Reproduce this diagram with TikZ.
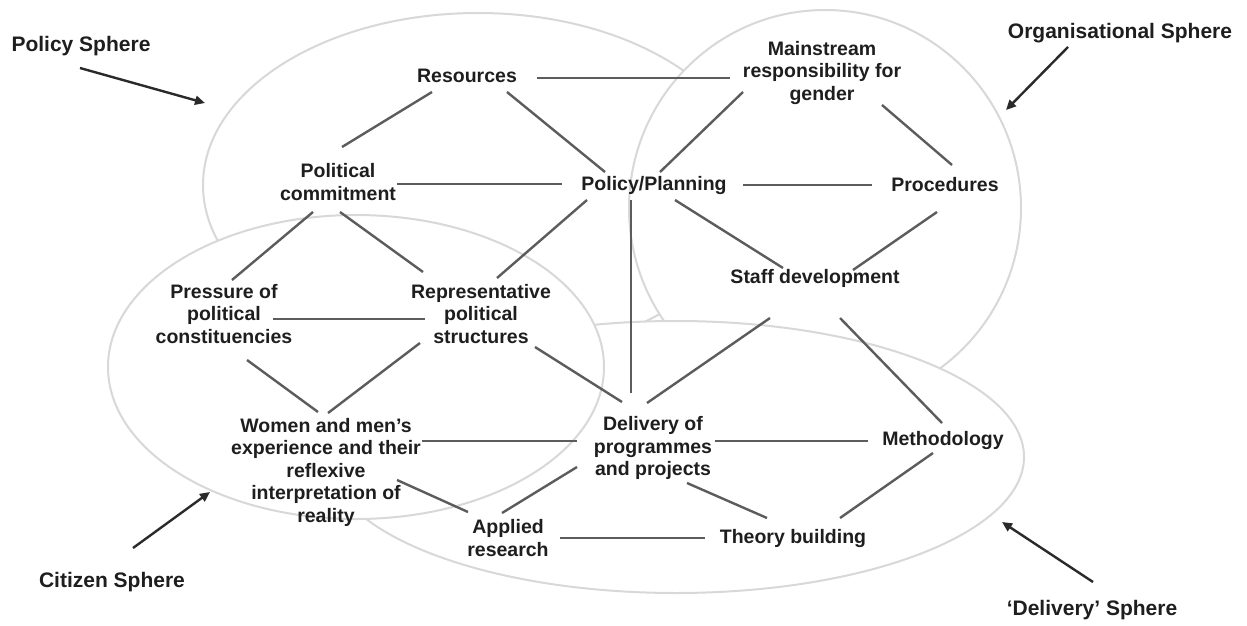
\documentclass[tikz,border=0pt]{standalone}
\usepackage{fontspec}
\setmainfont{Liberation Sans}
\usetikzlibrary{arrows.meta}
\definecolor{txt}{HTML}{1E1E1E}
\definecolor{conncol}{HTML}{5C5C5C}
\definecolor{ellcol}{HTML}{D8D8D8}
\definecolor{arrcol}{HTML}{2A2A2A}
\tikzset{
  lbl/.style={inner sep=0pt, align=center, text=txt, font=\bfseries\fontsize{19.5}{22.5}\selectfont},
  sphlbl/.style={inner sep=0pt, text=txt, font=\bfseries\fontsize{21}{24}\selectfont},
  conn/.style={draw=conncol, line width=2.4pt},
  sarr/.style={draw=arrcol, line width=2.4pt, -{Triangle[length=10pt,width=9pt]}},
  ell/.style={draw=ellcol, fill=white, line width=2pt}
}
\begin{document}
\begin{tikzpicture}[x=1pt,y=-1pt]
\path[use as bounding box, fill=white] (0,0) rectangle (1247,626);
% spheres (layered, white filled)
\path[ell] (478,185) ellipse [x radius=275pt, y radius=172pt];
\path[ell] (825,208) ellipse [x radius=196pt, y radius=198pt];
\path[ell] (676,457) ellipse [x radius=348pt, y radius=136pt];
\path[ell] (356,367) ellipse [x radius=248pt, y radius=152pt];
% nodes
\node[lbl] (res) at (467,76) {Resources};
\node[lbl] (main) at (822,73) {Mainstream\\responsibility for\\gender};
\node[lbl] (pc) at (338,182) {Political\\commitment};
\node[lbl] (pp) at (654,185) {Policy/Planning};
\node[lbl] (proc) at (945,185) {Procedures};
\node[lbl] (sd) at (815,278) {Staff development};
\node[lbl] (pres) at (224,314) {Pressure of\\political\\constituencies};
\node[lbl] (rep) at (481,314) {Representative\\political\\structures};
\node[lbl] (wom) at (326,472) {Women and men's\\experience and their\\reflexive\\interpretation of\\reality};
\node[lbl] (del) at (653,448) {Delivery of\\programmes\\and projects};
\node[lbl] (meth) at (943,440) {Methodology};
\node[lbl] (app) at (508,538) {Applied\\research};
\node[lbl] (theo) at (793,538) {Theory building};
% sphere labels
\node[sphlbl] (ps) at (81,46) {Policy Sphere};
\node[sphlbl] (os) at (1120,33) {Organisational Sphere};
\node[sphlbl] (cs) at (112,582) {Citizen Sphere};
\node[sphlbl] (ds) at (1092,610) {‘Delivery’ Sphere};
\coordinate (psA) at (205,103);
\coordinate (osA) at (1006,110);
\coordinate (csA) at (210,492);
\coordinate (dsA) at (1002,522);
% connectors
\draw[conn] ([shift={(70,2)}]res.center) -- ([shift={(-92,5)}]main.center);
\draw[conn] ([shift={(-35,16)}]res.center) -- ([shift={(4,-35)}]pc.center);
\draw[conn] ([shift={(40,16)}]res.center) -- ([shift={(-49,-13)}]pp.center);
\draw[conn] ([shift={(-79,19)}]main.center) -- ([shift={(6,-13)}]pp.center);
\draw[conn] ([shift={(60,32)}]main.center) -- ([shift={(7,-20)}]proc.center);
\draw[conn] ([shift={(59,2)}]pc.center) -- ([shift={(-92,-1)}]pp.center);
\draw[conn] ([shift={(89,0)}]pp.center) -- ([shift={(-73,0)}]proc.center);
\draw[conn] ([shift={(-25,30)}]pc.center) -- ([shift={(8,-34)}]pres.center);
\draw[conn] ([shift={(2,30)}]pc.center) -- ([shift={(-58,-42)}]rep.center);
\draw[conn] ([shift={(-67,15)}]pp.center) -- ([shift={(16,-36)}]rep.center);
\draw[conn] ([shift={(-23,15)}]pp.center) -- ([shift={(-22,-55)}]del.center);
\draw[conn] ([shift={(21,15)}]pp.center) -- ([shift={(-32,-10)}]sd.center);
\draw[conn] ([shift={(-8,27)}]proc.center) -- ([shift={(38,-8)}]sd.center);
\draw[conn] ([shift={(49,5)}]pres.center) -- ([shift={(-56,5)}]rep.center);
\draw[conn] ([shift={(23,46)}]pres.center) -- ([shift={(-8,-60)}]wom.center);
\draw[conn] ([shift={(-61,29)}]rep.center) -- ([shift={(2,-59)}]wom.center);
\draw[conn] ([shift={(54,33)}]rep.center) -- ([shift={(-31,-46)}]del.center);
\draw[conn] ([shift={(-45,40)}]sd.center) -- ([shift={(-6,-45)}]del.center);
\draw[conn] ([shift={(25,40)}]sd.center) -- ([shift={(-1,-17)}]meth.center);
\draw[conn] ([shift={(96,-31)}]wom.center) -- ([shift={(-76,-7)}]del.center);
\draw[conn] ([shift={(62,-7)}]del.center) -- ([shift={(-75,1)}]meth.center);
\draw[conn] ([shift={(71,8)}]wom.center) -- ([shift={(-40,-26)}]app.center);
\draw[conn] ([shift={(-76,19)}]del.center) -- ([shift={(-6,-25)}]app.center);
\draw[conn] ([shift={(34,35)}]del.center) -- ([shift={(-26,-20)}]theo.center);
\draw[conn] ([shift={(-10,13)}]meth.center) -- ([shift={(47,-20)}]theo.center);
\draw[conn] ([shift={(52,0)}]app.center) -- ([shift={(-88,0)}]theo.center);
% sphere arrows
\draw[sarr] ([shift={(-1,22)}]ps.center) -- (psA);
\draw[sarr] ([shift={(-52,14)}]os.center) -- (osA);
\draw[sarr] ([shift={(21,-34)}]cs.center) -- (csA);
\draw[sarr] ([shift={(1,-28)}]ds.center) -- (dsA);
\end{tikzpicture}
\end{document}
